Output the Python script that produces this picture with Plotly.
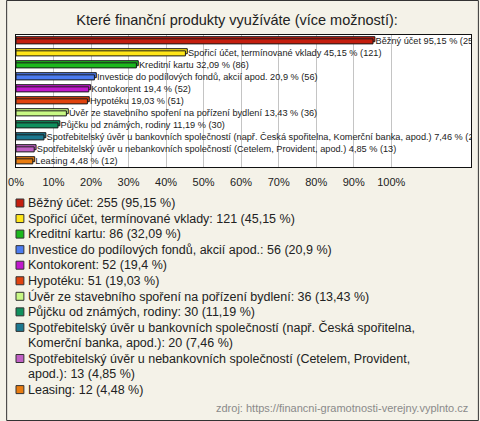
import textwrap
import plotly.graph_objects as go

# ---- data ----
categories = [
    "Běžný účet",
    "Spořicí účet, termínované vklady",
    "Kreditní kartu",
    "Investice do podílových fondů, akcií apod.",
    "Kontokorent",
    "Hypotéku",
    "Úvěr ze stavebního spoření na pořízení bydlení",
    "Půjčku od známých, rodiny",
    "Spotřebitelský úvěr u bankovních společností (např. Česká spořitelna, Komerční banka, apod.)",
    "Spotřebitelský úvěr u nebankovních společností (Cetelem, Provident, apod.)",
    "Leasing",
]
counts = [255, 121, 86, 56, 52, 51, 36, 30, 20, 13, 12]
percents = [95.15, 45.15, 32.09, 20.9, 19.4, 19.03, 13.43, 11.19, 7.46, 4.85, 4.48]
colors = ["#C41E0E", "#FFE619", "#1CB81C", "#4C7CF0", "#C018CC", "#E0420E",
          "#C8F884", "#10905E", "#1C7890", "#C060C4", "#E87C10"]
tick_values = [0, 10, 20, 30, 40, 50, 60, 70, 80, 90, 100]
tick_labels = ["0%", "10%", "20%", "30%", "40%", "50%", "60%", "70%", "80%", "90%", "100%"]
title_text = "Které finanční produkty využíváte (více možností):"
source_text = "zdroj: https://financni-gramotnosti-verejny.vyplnto.cz"

W, H = 480, 421
ML, MR, MT, MB = 10, 8, 35, 254
PW, PH = W - ML - MR, H - MT - MB
PX_PER_10 = 38.1
DEPTH_X = 0.5      # 3D depth, in % units (~2px)
BAR_W = 0.42
DEPTH_Y = 0.15


def px_x(px):
    return (px - ML) / PW


def px_y(py):
    return (H - MB - py) / PH


def fmt(p):
    return ("%g" % p).replace(".", ",")


bar_text = ["\u00a0" + f"{c} {fmt(p)} % ({n})" for c, p, n in zip(categories, percents, counts)]

fig = go.Figure()
# back face (3D depth effect)
fig.add_trace(go.Bar(
    y=categories,
    x=[p + DEPTH_X for p in percents],
    orientation="h",
    marker=dict(color=colors, line=dict(color="#1a1a1a", width=1)),
    width=BAR_W,
    offset=-BAR_W / 2 - DEPTH_Y,
    hoverinfo="skip",
    showlegend=False,
))
# front face
fig.add_trace(go.Bar(
    y=categories,
    x=percents,
    orientation="h",
    marker=dict(color=colors, line=dict(color="#1a1a1a", width=1)),
    width=BAR_W,
    offset=-BAR_W / 2 + 0.03,
    text=bar_text,
    textposition="outside",
    constraintext="none",
    cliponaxis=True,
    textfont=dict(family="Liberation Sans, Arial", size=9.2, color="#222"),
    hoverinfo="skip",
    showlegend=False,
))

shapes = []
annotations = []

# legend (built from data lists)
line_y0, line_step = 203, 15.55
k = 0
for c, p, n, col in zip(categories, percents, counts, colors):
    label = f"{c}: {n} ({fmt(p)} %)"
    lines = textwrap.wrap(label, width=70)
    cy = line_y0 + k * line_step
    shapes.append(dict(type="rect", xref="paper", yref="paper",
                       x0=px_x(10), x1=px_x(18), y0=px_y(cy - 4), y1=px_y(cy + 4),
                       fillcolor=col, line=dict(color="#333", width=1)))
    for j, ln in enumerate(lines):
        yy = line_y0 + (k + j) * line_step
        annotations.append(dict(text=ln, xref="paper", yref="paper",
                                x=px_x(20), y=px_y(yy), xanchor="left", yanchor="middle",
                                showarrow=False,
                                font=dict(family="Liberation Sans, Arial", size=12.5, color="#222")))
    k += len(lines)

# source
annotations.append(dict(text=source_text, xref="paper", yref="paper",
                        x=px_x(471), y=px_y(408), xanchor="right", yanchor="middle",
                        showarrow=False,
                        font=dict(family="Liberation Sans, Arial", size=11, color="#8a8a8a")))

# outer frame
shapes.append(dict(type="rect", xref="paper", yref="paper",
                   x0=px_x(0.5), x1=px_x(W - 0.5), y0=px_y(0.5), y1=px_y(H - 0.5),
                   line=dict(color="#333", width=1), fillcolor="rgba(0,0,0,0)", layer="below"))

fig.update_layout(
    width=W, height=H,
    margin=dict(l=ML, r=MR, t=MT, b=MB, pad=0),
    paper_bgcolor="#F4F2E8",
    plot_bgcolor="#FFFFFF",
    barmode="overlay",
    title=dict(text=title_text, x=237 / W, xref="container",
               xanchor="center", y=1 - 20 / H, yanchor="middle",
               font=dict(family="Liberation Sans, Arial", size=14.5, color="#222")),
    shapes=shapes,
    annotations=annotations,
)
fig.update_xaxes(
    range=[0, PW / PX_PER_10 * 10],
    tickvals=tick_values, ticktext=tick_labels,
    showgrid=True, gridcolor="#C4C4C4", gridwidth=1,
    showline=True, mirror=True, linecolor="#111", linewidth=1,
    zeroline=False, ticks="", ticklen=0, ticklabelstandoff=5,
    tickfont=dict(family="Liberation Sans, Arial", size=11, color="#222"),
    fixedrange=True,
)
fig.update_yaxes(
    autorange="reversed", showticklabels=False, showgrid=False,
    showline=True, mirror=True, linecolor="#111", linewidth=1,
    ticks="", fixedrange=True,
)

fig.write_html("out.html", config={"displayModeBar": False},
               post_script="document.body.style.margin='0';document.body.style.overflow='hidden';")
